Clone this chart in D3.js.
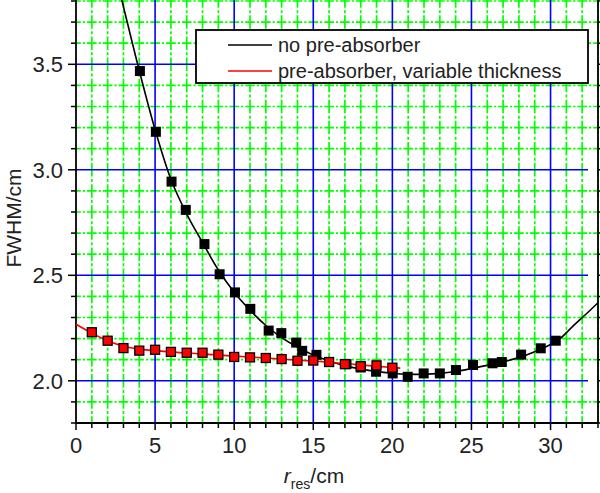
<!DOCTYPE html>
<html>
<head>
<meta charset="utf-8">
<script src="https://cdn.jsdelivr.net/npm/d3@7"></script>
<style>
  html, body { margin: 0; padding: 0; background: #fff; }
  svg { display: block; font-family: "Liberation Sans", Arial, Helvetica, sans-serif; }
</style>
</head>
<body>
<svg id="chart" width="600" height="493"></svg>
<script>
// ---------------- data ----------------
const noAbsX = [4.04, 5.05, 6.04, 6.94, 8.12, 9.08, 10.05, 11.02, 12.18, 12.98, 13.92, 14.3, 15.2, 17.1, 18.0, 18.97, 20.02, 20.97, 21.98, 23.0, 24.02, 25.1, 26.33, 26.92, 28.14, 29.38, 30.33];
const noAbsY = [3.468, 3.18, 2.944, 2.81, 2.648, 2.505, 2.419, 2.341, 2.238, 2.226, 2.181, 2.142, 2.123, 2.079, 2.063, 2.043, 2.035, 2.019, 2.035, 2.035, 2.051, 2.075, 2.083, 2.089, 2.124, 2.154, 2.19];

const preAbsX = [1, 2, 3, 4, 5, 6, 7, 8, 9, 10, 11, 12, 13, 14, 15, 16, 17, 18, 19, 20];
const preAbsY = [2.23, 2.19, 2.155, 2.143, 2.147, 2.137, 2.133, 2.133, 2.124, 2.113, 2.111, 2.108, 2.103, 2.095, 2.096, 2.089, 2.079, 2.069, 2.073, 2.062];

// fitted curves
const noAbsFitX = [2.88, 3.5, 4, 5, 6, 7, 8, 9, 10, 11, 12, 13, 14, 15, 16, 17, 18, 19, 20, 21, 22, 23, 24, 25, 26, 27, 28, 29, 30, 30.6, 31.5, 32.3, 33];
const noAbsFitY = [3.81, 3.62, 3.47, 3.19, 2.955, 2.79, 2.655, 2.525, 2.42, 2.335, 2.262, 2.205, 2.16, 2.122, 2.094, 2.072, 2.056, 2.044, 2.036, 2.031, 2.031, 2.035, 2.044, 2.058, 2.073, 2.09, 2.11, 2.138, 2.172, 2.2, 2.265, 2.32, 2.37];

const preAbsFitX = [0, 1, 2, 3, 4, 6, 8, 10, 12, 14, 16, 18, 20, 20.5];
const preAbsFitY = [2.268, 2.226, 2.19, 2.164, 2.15, 2.137, 2.127, 2.117, 2.108, 2.098, 2.088, 2.075, 2.063, 2.06];

const xMajorTicks = [0, 5, 10, 15, 20, 25, 30];
const xMinorTicks = d3.range(0, 34, 1);
const yMajorTicks = [2.0, 2.5, 3.0, 3.5];
const yMinorTicks = d3.range(18, 39, 1).map(d => d / 10);

const legendLabels = ["no pre-absorber", "pre-absorber, variable thickness"];
const seriesColors = ["#000000", "#ff0000"];

// ---------------- layout ----------------
const svg = d3.select("#chart");
const L = 76, R = 598, T = 1, B = 423;
const x = d3.scaleLinear().domain([0, 33]).range([L, R]);
const y = d3.scaleLinear().domain([1.8, 3.8]).range([B, T]);

svg.append("defs").append("clipPath").attr("id", "clip")
  .append("rect").attr("x", L).attr("y", 0).attr("width", R - L).attr("height", B);

const grid = svg.append("g");
// green minor grid
const isMajX = v => Math.abs(v % 5) < 1e-6;
const isMajY = v => Math.abs((v * 10) % 5) < 1e-6;
grid.selectAll("line.gx").data(xMinorTicks.filter(v => !isMajX(v) && v > 0)).join("line")
  .attr("x1", d => x(d)).attr("x2", d => x(d)).attr("y1", B).attr("y2", 0)
  .attr("stroke", "#00ff00").attr("stroke-width", 1.7)
  .attr("stroke-dasharray", "13.5,2.2,3,2.4").attr("stroke-dashoffset", 6.75);
grid.selectAll("line.gy").data(yMinorTicks.filter(v => !isMajY(v) && v > 1.85)).join("line")
  .attr("x1", L).attr("x2", R).attr("y1", d => y(d)).attr("y2", d => y(d))
  .attr("stroke", "#00ff00").attr("stroke-width", 1.7)
  .attr("stroke-dasharray", "9.6,2,2.2,2.02").attr("stroke-dashoffset", 4.8);
// blue major grid
grid.selectAll("line.bx").data(xMajorTicks.filter(v => v > 0)).join("line")
  .attr("x1", d => x(d)).attr("x2", d => x(d)).attr("y1", B).attr("y2", 0)
  .attr("stroke", "#0000ff").attr("stroke-width", 1.6);
grid.selectAll("line.by").data(yMajorTicks).join("line")
  .attr("x1", L).attr("x2", R - 10).attr("y1", d => y(d)).attr("y2", d => y(d))
  .attr("stroke", "#0000ff").attr("stroke-width", 1.6);

// axes
const ax = svg.append("g");
ax.append("line").attr("x1", L).attr("x2", L).attr("y1", 0).attr("y2", B + 0.5).attr("stroke", "#000").attr("stroke-width", 1.8);
ax.append("line").attr("x1", L).attr("x2", R).attr("y1", B).attr("y2", B).attr("stroke", "#000").attr("stroke-width", 1.8);
ax.append("line").attr("x1", R).attr("x2", R).attr("y1", 0).attr("y2", B).attr("stroke", "#000").attr("stroke-width", 1.8);

ax.selectAll("line.ty").data(yMinorTicks).join("line")
  .attr("x1", d => L - (isMajY(d) ? 8 : 5)).attr("x2", L)
  .attr("y1", d => y(d)).attr("y2", d => y(d)).attr("stroke", "#000").attr("stroke-width", 1.5);
ax.selectAll("line.tyr").data(yMinorTicks).join("line")
  .attr("x1", R).attr("x2", R + 5)
  .attr("y1", d => y(d)).attr("y2", d => y(d)).attr("stroke", "#000").attr("stroke-width", 1.5);
ax.selectAll("line.tx").data(xMinorTicks).join("line")
  .attr("x1", d => x(d)).attr("x2", d => x(d))
  .attr("y1", B).attr("y2", d => B + (isMajX(d) ? 7 : 5)).attr("stroke", "#000").attr("stroke-width", 1.5);

ax.selectAll("text.ly").data(yMajorTicks).join("text")
  .attr("x", L - 13).attr("y", d => y(d)).attr("dy", "0.36em")
  .attr("text-anchor", "end").attr("font-size", 22).attr("fill", "#222")
  .text(d => d.toFixed(1));
ax.selectAll("text.lx").data(xMajorTicks).join("text")
  .attr("x", d => x(d)).attr("y", B + 30)
  .attr("text-anchor", "middle").attr("font-size", 22).attr("fill", "#222")
  .text(d => d);

// axis titles
svg.append("text").attr("transform", `translate(21,218) rotate(-90)`)
  .attr("text-anchor", "middle").attr("font-size", 21).attr("fill", "#222").text("FWHM/cm");
const xt = svg.append("text").attr("x", 314).attr("y", 483).attr("text-anchor", "middle")
  .attr("font-size", 21).attr("fill", "#222");
xt.append("tspan").attr("font-style", "italic").text("r");
xt.append("tspan").attr("font-size", 14).attr("dy", 6).text("res");
xt.append("tspan").attr("dy", -6).text("/cm");

// curves
const line = d3.line().x(d => x(d[0])).y(d => y(d[1])).curve(d3.curveCatmullRom);
const plot = svg.append("g").attr("clip-path", "url(#clip)");
plot.append("path").datum(noAbsFitX.map((v, i) => [v, noAbsFitY[i]]))
  .attr("d", line).attr("fill", "none").attr("stroke", seriesColors[0]).attr("stroke-width", 1.6);
plot.append("path").datum(preAbsFitX.map((v, i) => [v, preAbsFitY[i]]))
  .attr("d", line).attr("fill", "none").attr("stroke", seriesColors[1]).attr("stroke-width", 1.6);

// markers
const s = 10;
plot.selectAll("rect.nb").data(noAbsX.map((v, i) => [v, noAbsY[i]])).join("rect")
  .attr("x", d => x(d[0]) - s / 2).attr("y", d => y(d[1]) - s / 2)
  .attr("width", s).attr("height", s).attr("fill", "#000");
const s2 = 9;
plot.selectAll("rect.pb").data(preAbsX.map((v, i) => [v, preAbsY[i]])).join("rect")
  .attr("x", d => x(d[0]) - s2 / 2).attr("y", d => y(d[1]) - s2 / 2)
  .attr("width", s2).attr("height", s2).attr("fill", "#ff0000")
  .attr("stroke", "#000").attr("stroke-width", 1.3);

// legend
const lg = svg.append("g");
lg.append("rect").attr("x", 196).attr("y", 30).attr("width", 392).attr("height", 53)
  .attr("fill", "#fff").attr("stroke", "#000").attr("stroke-width", 1.8);
legendLabels.forEach((lab, i) => {
  const yy = 45 + i * 26;
  lg.append("line").attr("x1", 228).attr("x2", 272).attr("y1", yy).attr("y2", yy)
    .attr("stroke", seriesColors[i]).attr("stroke-width", 1.6);
  lg.append("text").attr("x", 278).attr("y", yy + 7).attr("font-size", 20).attr("fill", "#222").text(lab);
});
</script>
</body>
</html>
